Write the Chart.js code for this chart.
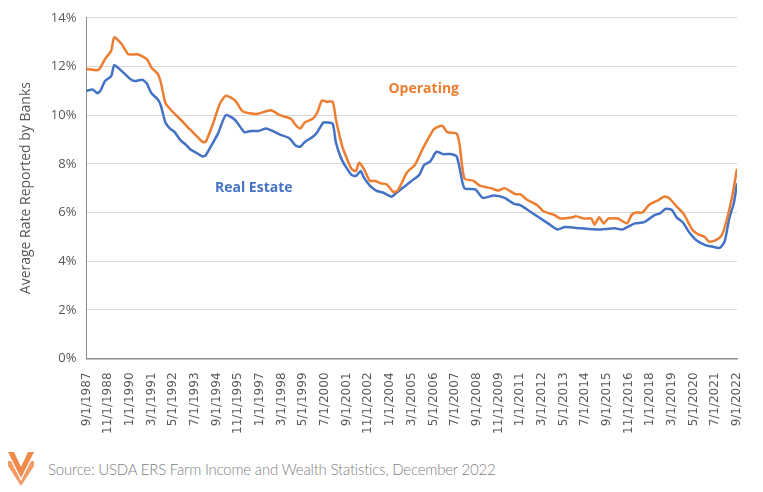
<!DOCTYPE html>
<html>
<head>
<meta charset="utf-8">
<script src="https://cdn.jsdelivr.net/npm/chart.js@4.4.0/dist/chart.umd.min.js"></script>
<style>
  body { margin: 0; background: #fff; width: 763px; height: 492px; overflow: hidden; font-family: Lato, sans-serif; }
  #wrap { position: absolute; left: 0; top: 0; width: 763px; height: 440px; }
  #footer { position: absolute; left: 8px; top: 452px; display: flex; align-items: center; }
  #footer span { font-family: Lato, sans-serif; font-weight: 300; font-size: 15px; color: #7f7f7f; margin-left: 14px; letter-spacing: -0.2px; }
</style>
</head>
<body>
<div id="wrap"><canvas id="chart"></canvas></div>
<div id="footer">
  <svg width="26" height="34" viewBox="0 0 26 34">
    <g fill="#F08A4B">
      <polygon points="0,0 6,0 13,15 20,0 26,0 13,26"/>
      <polygon points="0,9 3,9 13,29 23,9 26,9 26,14 13,34 0,14" opacity="0.85"/>
    </g>
  </svg>
  <span>Source: USDA ERS Farm Income and Wealth Statistics, December 2022</span>
</div>
<script>
// months counted from 9/1/1987
const opMonths = [0,7,9,12,16,18,23,27,33,39,42,46,48,51,54,57,61,64,67,71,75,77,82,86,90,96,101,110,119,125,132,135,138,141,146,149,152,155,159,161,165,171,174,176,179,183,186,190,194,198,201,207,212,217,224,228,230,233,239,241,244,250,254,261,266,270,277,280,285,291,295,302,306,314,316,321,326,328,331,334,337,343,349,352,355,359,363,369,373,376,381,386,391,395,399,402,406,410,413,417,420];
const opRates = [11.9,11.85,11.95,12.3,12.65,13.2,12.9,12.5,12.5,12.3,11.95,11.7,11.35,10.5,10.25,10.05,9.8,9.6,9.4,9.15,8.9,8.9,9.7,10.45,10.8,10.6,10.15,10.05,10.2,10.0,9.85,9.6,9.45,9.7,9.85,10.1,10.6,10.55,10.55,9.85,8.75,7.8,7.7,8.05,7.8,7.3,7.3,7.2,7.15,6.85,6.9,7.65,7.95,8.6,9.4,9.55,9.55,9.3,9.25,8.75,7.4,7.3,7.1,7.0,6.9,7.0,6.75,6.75,6.5,6.3,6.05,5.9,5.75,5.8,5.85,5.75,5.75,5.5,5.8,5.55,5.75,5.75,5.55,5.9,6.0,6.0,6.3,6.5,6.65,6.6,6.25,5.9,5.3,5.1,5.0,4.8,4.85,5.05,5.6,6.7,7.8];

const reMonths = [0,4,7,9,12,16,18,23,28,31,36,39,42,46,48,51,54,57,61,64,67,71,75,77,82,85,90,96,102,106,111,116,120,125,131,135,138,141,146,149,153,155,159,161,165,171,174,177,179,183,187,192,197,200,207,211,215,218,222,226,230,235,239,241,244,251,256,263,270,276,280,285,292,298,304,309,319,330,341,346,354,360,367,370,374,378,381,385,389,394,400,404,407,409,412,415,418,420];
const reRates = [11.0,11.05,10.9,11.0,11.4,11.6,12.05,11.8,11.5,11.4,11.45,11.3,10.9,10.65,10.4,9.7,9.45,9.3,8.95,8.8,8.6,8.45,8.3,8.35,8.9,9.25,10.0,9.8,9.3,9.35,9.35,9.45,9.35,9.2,9.05,8.75,8.7,8.9,9.1,9.3,9.7,9.7,9.65,8.9,8.15,7.55,7.5,7.7,7.45,7.1,6.9,6.8,6.65,6.8,7.15,7.35,7.55,7.95,8.1,8.5,8.4,8.4,8.3,7.8,7.0,6.95,6.6,6.7,6.6,6.35,6.3,6.1,5.8,5.55,5.3,5.4,5.35,5.3,5.35,5.3,5.55,5.6,5.9,5.95,6.15,6.1,5.8,5.6,5.2,4.85,4.65,4.6,4.55,4.55,4.8,5.75,6.4,7.2];

const tickLabels = ['9/1/1987','11/1/1988','1/1/1990','3/1/1991','5/1/1992','7/1/1993','9/1/1994','11/1/1995','1/1/1997','3/1/1998','5/1/1999','7/1/2000','9/1/2001','11/1/2002','1/1/2004','3/1/2005','5/1/2006','7/1/2007','9/1/2008','11/1/2009','1/1/2011','3/1/2012','5/1/2013','7/1/2014','9/1/2015','11/1/2016','1/1/2018','3/1/2019','5/1/2020','7/1/2021','9/1/2022'];
const tickStep = 14;

const toPoints = (xs, ys) => xs.map((x, i) => ({ x: x, y: ys[i] }));

// series names drawn next to the lines
const seriesLabels = {
  id: 'seriesLabels',
  afterDatasetsDraw(chart) {
    const { ctx, scales } = chart;
    ctx.save();
    ctx.font = 'bold 14px "Open Sans", sans-serif';
    ctx.textBaseline = 'middle';
    ctx.fillStyle = '#ED7D31';
    ctx.fillText('Operating', scales.x.getPixelForValue(195), scales.y.getPixelForValue(11.08));
    ctx.fillStyle = '#4472C4';
    ctx.fillText('Real Estate', scales.x.getPixelForValue(83), scales.y.getPixelForValue(7.0));
    ctx.restore();
  }
};

new Chart(document.getElementById('chart'), {
  type: 'line',
  data: {
    datasets: [{
      label: 'Operating',
      data: toPoints(opMonths, opRates),
      borderColor: '#ED7D31',
      borderWidth: 2.5,
      pointRadius: 0,
      tension: 0.2
    }, {
      label: 'Real Estate',
      data: toPoints(reMonths, reRates),
      borderColor: '#4472C4',
      borderWidth: 2.5,
      pointRadius: 0,
      tension: 0.2
    }]
  },
  options: {
    responsive: true,
    maintainAspectRatio: false,
    animation: false,
    layout: { padding: { top: 0, right: 26, left: 14 } },
    plugins: { legend: { display: false }, tooltip: { enabled: false } },
    scales: {
      x: {
        type: 'linear',
        min: 0,
        max: 420,
        afterBuildTicks: (axis) => {
          axis.ticks = tickLabels.map((t, i) => ({ value: i * tickStep }));
        },
        ticks: {
          autoSkip: false,
          maxRotation: 90,
          minRotation: 90,
          color: '#595959',
          padding: 6,
          font: { family: '"DejaVu Sans", sans-serif', size: 12 },
          callback: (v) => tickLabels[Math.round(v / tickStep)]
        },
        grid: { display: false },
        border: { color: '#8c8c8c', width: 1.5 }
      },
      y: {
        min: 0,
        max: 14,
        ticks: {
          stepSize: 2,
          color: '#595959',
          padding: 10,
          font: { family: '"Open Sans", sans-serif', size: 13 },
          callback: (v) => v + '%'
        },
        grid: { color: '#d9d9d9', drawTicks: false },
        border: { color: '#8c8c8c', width: 1 },
        title: {
          display: true,
          text: 'Average Rate Reported by Banks',
          color: '#595959',
          padding: { bottom: 6 },
          font: { family: '"Open Sans", sans-serif', size: 14 }
        }
      }
    }
  },
  plugins: [seriesLabels]
});
</script>
</body>
</html>
